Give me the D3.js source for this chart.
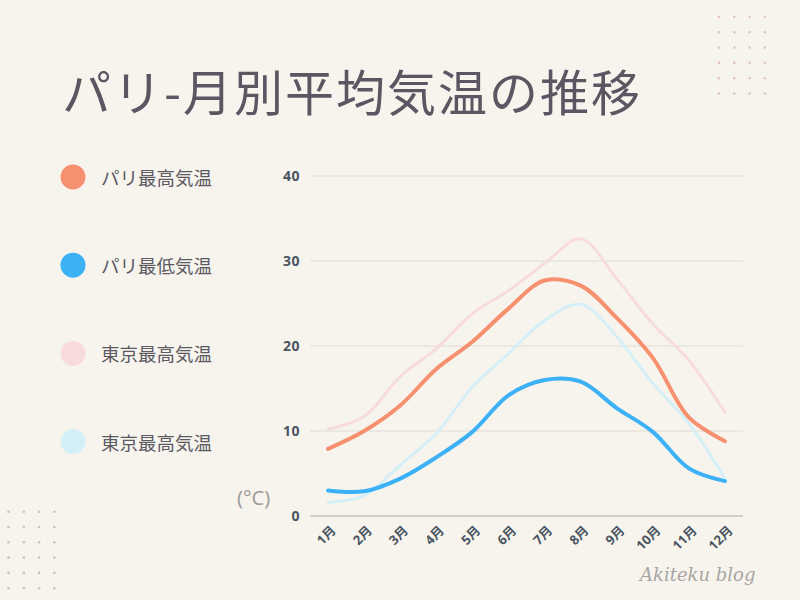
<!DOCTYPE html>
<html>
<head>
<meta charset="utf-8">
<script src="https://cdn.jsdelivr.net/npm/d3@7"></script>
<style>
  html, body { margin: 0; padding: 0; background: #f7f4ee; }
  svg { display: block; }
</style>
</head>
<body>
<svg id="chart" width="800" height="600"></svg>
<script>
const months = ["1月","2月","3月","4月","5月","6月","7月","8月","9月","10月","11月","12月"];
const parisMax = [7.9, 10.0, 13.0, 17.3, 20.5, 24.4, 27.7, 27.1, 23.3, 18.6, 11.6, 8.8];
const parisMin = [3.0, 2.9, 4.4, 6.9, 9.9, 14.2, 16.0, 15.8, 12.7, 9.9, 5.6, 4.1];
const tokyoMax = [10.2, 11.7, 16.4, 19.7, 23.8, 26.5, 29.7, 32.6, 27.9, 22.6, 18.3, 12.2];
const tokyoMin = [1.6, 2.4, 6.0, 9.7, 15.2, 19.1, 23.0, 24.9, 21.1, 15.6, 10.9, 4.4];
const yTicks = [0, 10, 20, 30, 40];
const seriesNames = ["パリ最高気温", "パリ最低気温", "東京最高気温", "東京最高気温"];
const title = "パリ-月別平均気温の推移";
const unitLabel = "(°C)";
const watermark = "Akiteku blog";

const colors = ["#f6906f", "#3cb1f6", "#f8dcdc", "#d4f0f6"];
const widths = [4, 4, 3, 3];
const seriesData = [parisMax, parisMin, tokyoMax, tokyoMin];

const svg = d3.select("#chart");
svg.append("rect").attr("width", 800).attr("height", 600).attr("fill", "#f7f4ee");

// decorative dot grids
const dotGrid = (x0, y0, cols, rows, step, color) => {
  const pts = d3.cross(d3.range(cols), d3.range(rows));
  svg.append("g").selectAll("circle").data(pts).join("circle")
    .attr("cx", d => x0 + d[0] * step)
    .attr("cy", d => y0 + d[1] * step)
    .attr("r", 1.3)
    .attr("fill", color);
};
dotGrid(719, 17, 4, 6, 15.3, "#e2c4c0");
dotGrid(8.5, 511.7, 4, 6, 15.3, "#cdbfbd");

// title
svg.append("text")
  .attr("x", 62).attr("y", 111)
  .attr("font-family", "'Noto Sans CJK JP', sans-serif")
  .attr("font-size", 49)
  .attr("letter-spacing", 2)
  .attr("font-weight", 400)
  .attr("fill", "#5a5662")
  .text(title);

// legend
const legend = svg.append("g");
seriesNames.forEach((name, i) => {
  const cy = 177 + i * 88.2;
  legend.append("circle").attr("cx", 73).attr("cy", cy).attr("r", 12.5).attr("fill", colors[i]);
  legend.append("text")
    .attr("x", 101).attr("y", cy)
    .attr("dominant-baseline", "central")
    .attr("font-family", "'Noto Sans CJK JP', sans-serif")
    .attr("font-size", 18.5)
    .attr("fill", "#5b5a63")
    .text(name);
});

// scales
const x = d3.scalePoint().domain(months).range([310, 743]).padding(0.5);
const y = d3.scaleLinear().domain([0, 40]).range([516, 176]);

// grid
const grid = svg.append("g");
grid.selectAll("line").data(yTicks).join("line")
  .attr("x1", 310).attr("x2", 743)
  .attr("y1", d => y(d)).attr("y2", d => y(d))
  .attr("stroke", d => d === 0 ? "#d2cdc7" : "#e7e3dd")
  .attr("stroke-width", d => d === 0 ? 2 : 1.5);

// y axis
const yAxis = svg.append("g").attr("transform", "translate(310,0)")
  .call(d3.axisLeft(y).tickValues(yTicks).tickSize(0).tickPadding(10));
yAxis.select(".domain").remove();
yAxis.selectAll("text")
  .attr("font-family", "'Open Sans', sans-serif")
  .attr("font-weight", 700)
  .attr("font-size", 14)
  .attr("letter-spacing", 0.5)
  .attr("fill", "#4a5561");

// x axis
const xAxis = svg.append("g").attr("transform", "translate(0,516)")
  .call(d3.axisBottom(x).tickSize(0).tickPadding(0));
xAxis.select(".domain").remove();
xAxis.selectAll("text")
  .attr("font-family", "'Open Sans', 'Noto Sans CJK JP', sans-serif")
  .attr("font-weight", 700)
  .attr("font-size", 13)
  .attr("fill", "#4a5561")
  .attr("text-anchor", "end")
  .attr("dy", "0.35em")
  .attr("transform", "translate(5,12) rotate(-45)");

// unit label
svg.append("text")
  .attr("x", 237).attr("y", 505)
  .attr("font-family", "'Noto Sans', sans-serif")
  .attr("font-size", 20)
  .attr("fill", "#a09d9b")
  .text(unitLabel);

// lines
const line = d3.line()
  .x((d, i) => x(months[i]))
  .y(d => y(d))
  .curve(d3.curveCatmullRom.alpha(0.5));
const order = [2, 3, 0, 1];
svg.append("g").selectAll("path").data(order).join("path")
  .attr("d", i => line(seriesData[i]))
  .attr("fill", "none")
  .attr("stroke", i => colors[i])
  .attr("stroke-width", i => widths[i])
  .attr("stroke-linecap", "round")
  .attr("stroke-linejoin", "round");

// watermark
svg.append("text")
  .attr("x", 640).attr("y", 581)
  .attr("font-family", "'DejaVu Serif', serif")
  .attr("font-style", "italic")
  .attr("font-size", 18)
  .attr("fill", "#a8a5a3")
  .text(watermark);
</script>
</body>
</html>
